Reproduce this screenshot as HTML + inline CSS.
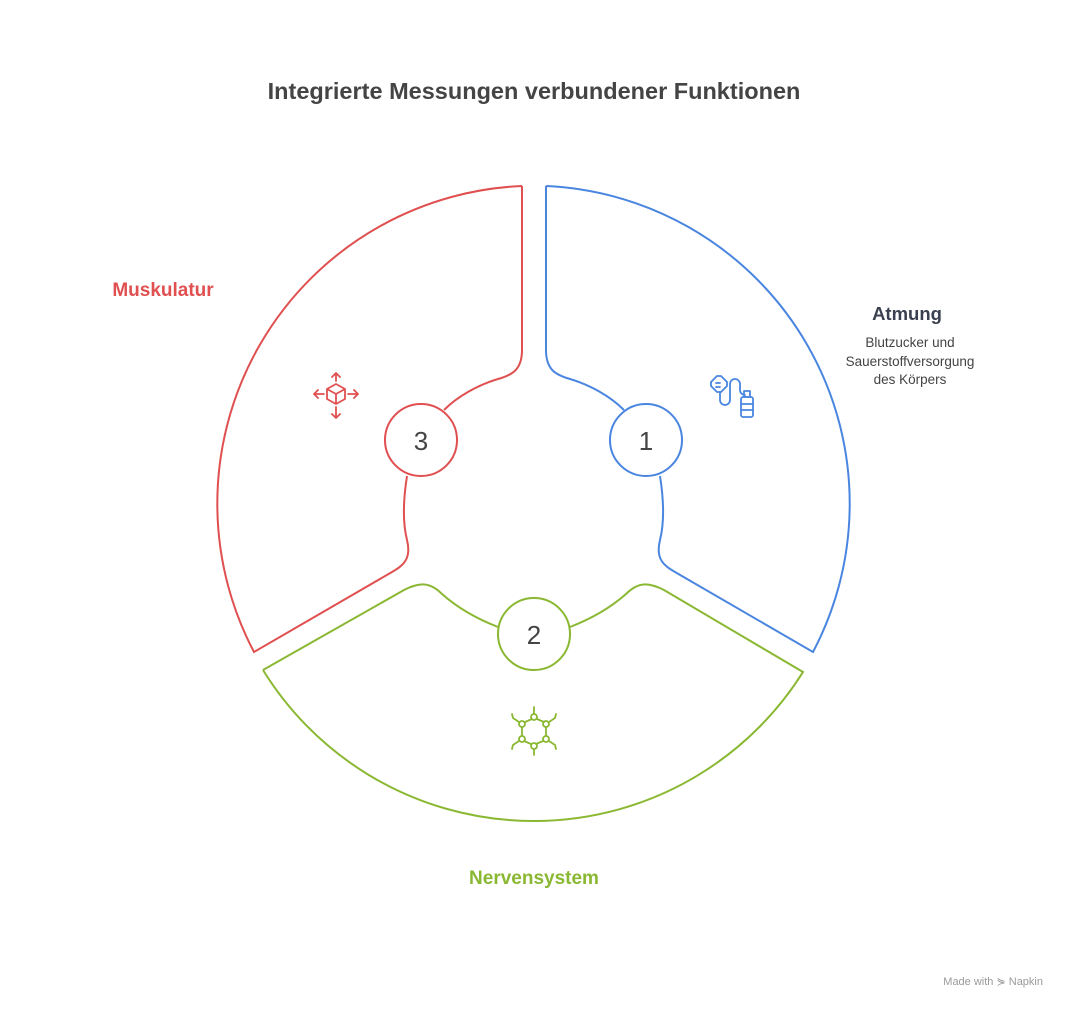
<!DOCTYPE html>
<html><head><meta charset="utf-8"><style>
body{margin:0;background:#fff;width:1068px;height:1008px;overflow:hidden;font-family:"Liberation Sans",sans-serif}
</style></head><body>
<svg width="1068" height="1008" viewBox="0 0 1068 1008" xmlns="http://www.w3.org/2000/svg" font-family="Liberation Sans, sans-serif">
<text x="534" y="99" text-anchor="middle" font-size="23.5" font-weight="bold" fill="#444">Integrierte Messungen verbundener Funktionen</text>
<g fill="none" stroke-width="2">
<path stroke="#4a86e0" d="M546,186 L546,350 C546,370 556,375 570,379 C590,385 610,396 624,410 M660,476 C663,495 665,520 660,540 C655,560 665,566 675,572 L813,652 A318,318 0 0 0 546,186"/>
<circle cx="646" cy="440" r="36" stroke="#4a86e0"/>
<path stroke="#e05050" d="M522,186 L522,350 C522,370 512,375 498,379 C478,385 458,396 444,410 M407,476 C404,495 402,520 407,540 C412,560 402,566 392,572 L254,652 A318,318 0 0 1 522,186"/>
<circle cx="421" cy="440" r="36" stroke="#e05050"/>
<path stroke="#8ab832" d="M263,670 L404,590 C420,582 430,582 442,594 C460,610 480,620 498,627 M570,627 C588,620 608,610 626,594 C638,582 648,582 664,590 L803,672 A318,318 0 0 1 263,670"/>
<circle cx="534" cy="634" r="36" stroke="#8ab832"/>
</g>
<g font-size="26" fill="#444" text-anchor="middle">
<text x="646" y="450">1</text><text x="421" y="450">3</text><text x="534" y="644">2</text>
</g>
<g fill="none" stroke="#4a86e0" stroke-width="1.8" stroke-linecap="round" stroke-linejoin="round">
<path d="M711,382 l6,-6 h4 l6,6 v4 l-6,6 h-4 l-6,-6z"/><path d="M716,383h4M716,387h4"/>
<path d="M720,392 v8 a5,5 0 0 0 10,0 v-16 a5,5 0 0 1 10,0 v6 a5,5 0 0 0 5,5"/>
<rect x="741" y="397" width="12" height="20" rx="2"/><rect x="744" y="391" width="6" height="6"/><path d="M741,404h12M741,410h12"/>
</g>
<g fill="none" stroke="#e05050" stroke-width="1.8" stroke-linecap="round" stroke-linejoin="round">
<path d="M336,384 l9,5 v10 l-9,5 l-9,-5 v-10z M327,389 l9,5 l9,-5 M336,394 v10"/>
<path d="M336,381 v-8 M332,377 l4,-4 l4,4 M336,407 v11 M332,414 l4,4 l4,-4 M324,394 h-10 M318,390 l-4,4 l4,4 M348,394 h10 M354,390 l4,4 l-4,4"/>
</g>
<g fill="none" stroke="#8ab832" stroke-width="1.8" stroke-linecap="round">
<circle cx="534" cy="717" r="3"/><circle cx="546" cy="724" r="3"/><circle cx="546" cy="739" r="3"/><circle cx="534" cy="746" r="3"/><circle cx="522" cy="739" r="3"/><circle cx="522" cy="724" r="3"/>
<path d="M537,719 l7,3 M546,727 v9 M543,741 l-7,3 M531,744 l-7,-3 M522,736 v-9 M525,722 l7,-3 M534,714 v-7 M534,749 v6 M549,722 l6,-4 M555,718 l1,-4 M549,741 l6,4 M555,745 l1,4 M519,722 l-6,-4 M513,718 l-1,-4 M519,741 l-6,4 M513,745 l-1,4"/>
</g>
<text x="163" y="296" text-anchor="middle" font-size="19" font-weight="bold" fill="#e05050">Muskulatur</text>
<text x="907" y="320" text-anchor="middle" font-size="18.5" font-weight="bold" fill="#3a4050">Atmung</text>
<g font-size="13.5" fill="#444" text-anchor="middle">
<text x="910" y="347">Blutzucker und</text><text x="910" y="366">Sauerstoffversorgung</text><text x="910" y="384">des Körpers</text>
</g>
<text x="534" y="884" text-anchor="middle" font-size="19" font-weight="bold" fill="#8ab832">Nervensystem</text>
<text x="1043" y="985" text-anchor="end" font-size="11" fill="#999">Made with ⋟ Napkin</text>
</svg>
</body></html>
